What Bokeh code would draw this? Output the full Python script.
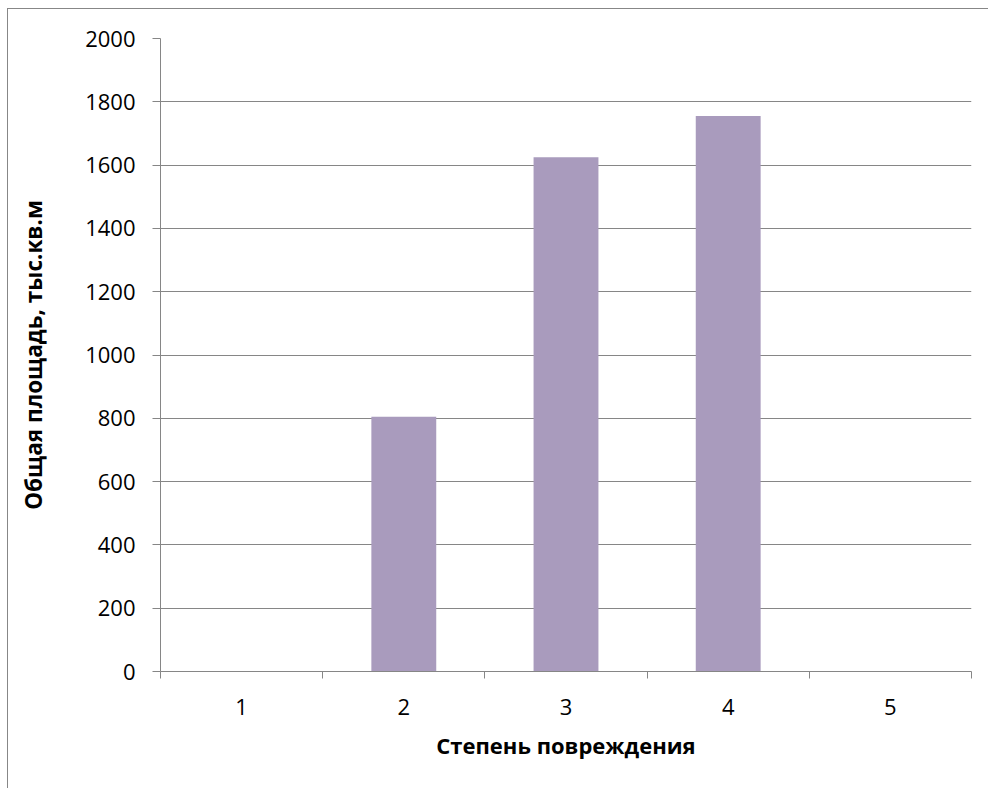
from bokeh.plotting import figure
from bokeh.models import Range1d, FixedTicker
from bokeh.embed import file_html
from bokeh.resources import INLINE

categories = ["1", "2", "3", "4", "5"]
values = [0, 805, 1625, 1755, 0]
y_ticks = [0, 200, 400, 600, 800, 1000, 1200, 1400, 1600, 1800, 2000]
x_title = "Степень повреждения"
y_title = "Общая площадь, тыс.кв.м"

positions = list(range(1, len(categories) + 1))
boundaries = [p - 0.5 for p in positions] + [positions[-1] + 0.5]

GRAY = "#868686"
FONT = "Open Sans"

p = figure(width=981, height=780, output_backend="svg", toolbar_location=None,
           x_range=Range1d(0.5, len(categories) + 0.5), y_range=Range1d(0, 2000),
           min_border_left=152, min_border_top=29, min_border_right=18, min_border_bottom=118)
p.styles = {"border-left": "1px solid #878787", "border-top": "1px solid #878787",
            "margin-left": "7px", "margin-top": "8px"}
p.outline_line_color = None
p.background_fill_color = "white"
p.border_fill_color = "white"

p.vbar(x=positions, top=values, width=0.4, fill_color="#A99BBD", line_color=None)

# grid
p.xgrid.visible = False
p.ygrid.grid_line_color = GRAY
p.ygrid.grid_line_width = 1
p.ygrid.ticker = FixedTicker(ticks=y_ticks)

# y axis
p.yaxis.ticker = FixedTicker(ticks=y_ticks)
p.yaxis.axis_line_color = GRAY
p.yaxis.major_tick_line_color = GRAY
p.yaxis.major_tick_out = 8
p.yaxis.major_tick_in = 0
p.yaxis.minor_tick_line_color = None
p.yaxis.major_label_standoff = 17
p.yaxis.major_label_text_font = FONT
p.yaxis.major_label_text_font_size = "22px"
p.yaxis.major_label_text_color = "black"
p.yaxis.axis_label = y_title
p.yaxis.axis_label_text_font = FONT
p.yaxis.axis_label_text_font_size = "22.5px"
p.yaxis.axis_label_text_font_style = "bold"
p.yaxis.axis_label_text_color = "black"
p.yaxis.axis_label_standoff = 33

# x axis
p.xaxis.ticker = FixedTicker(ticks=positions, minor_ticks=boundaries)
p.xaxis.major_label_overrides = {pos: c for pos, c in zip(positions, categories)}
p.xaxis.axis_line_color = GRAY
p.xaxis.major_tick_line_color = None
p.xaxis.major_tick_out = 7
p.xaxis.major_tick_in = 0
p.xaxis.minor_tick_line_color = GRAY
p.xaxis.minor_tick_out = 7
p.xaxis.minor_tick_in = 0
p.xaxis.major_label_standoff = 20
p.xaxis.major_label_text_font = FONT
p.xaxis.major_label_text_font_size = "22px"
p.xaxis.major_label_text_color = "black"
p.xaxis.axis_label = x_title
p.xaxis.axis_label_text_font = FONT
p.xaxis.axis_label_text_font_size = "22px"
p.xaxis.axis_label_text_font_style = "bold"
p.xaxis.axis_label_text_color = "black"
p.xaxis.axis_label_standoff = 12

open("out.html", "w").write(file_html(p, INLINE))
